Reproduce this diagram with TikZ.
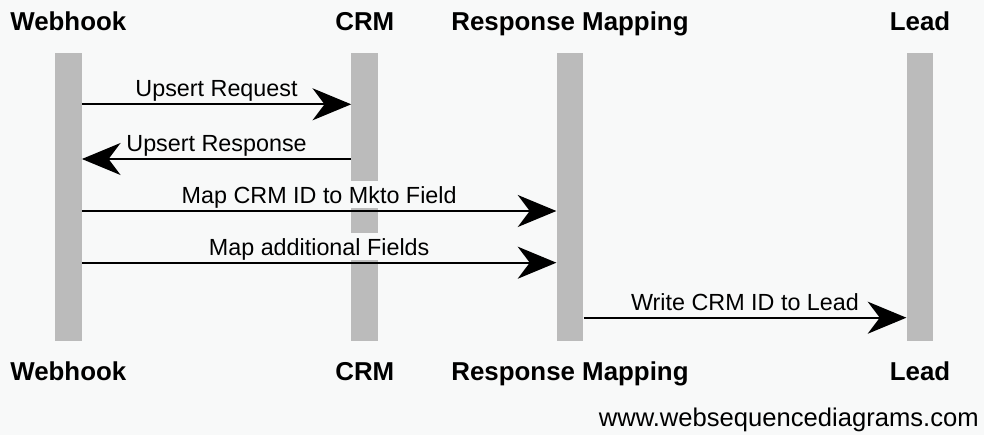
\documentclass[tikz,border=0pt]{standalone}
\usepackage{fontspec}
\setmainfont{Liberation Sans}
\usepackage{tikz}
\usetikzlibrary{arrows.meta,positioning}
\definecolor{canvas}{RGB}{248,249,249}
\definecolor{lifeline}{RGB}{187,187,187}
\tikzset{
    %Define standard arrow tip
    >={Stealth[length=29pt,width=24pt,inset=9pt]},
    %Define style for participant names
    actor/.style={
           inner sep=0pt,
           text height=13.9pt,
           text depth=0pt,
           font=\bfseries\fontsize{19.4}{23}\selectfont},
    %Define style for lifelines
    life/.style={
           rectangle,
           fill=lifeline,
           inner sep=0pt,
           minimum width=20pt,
           minimum height=216pt},
    % Define message style
    msg/.style={
           ->,
           line width=1.6pt},
    msglabel/.style={
           fill=canvas,
           font=\fontsize{17.5}{21}\selectfont,
           text height=16.5pt,
           text depth=3.75pt,
           inner ysep=0pt,
           inner xsep=1.5pt,
           above=1.2pt}
}
\begin{document}
\begin{tikzpicture}[x=0.75pt,y=-0.75pt]
\fill[canvas] (0,0) rectangle (984,435);
 %lifelines
\node[life] (wh) at (68.3,197) {};
\node[life] (crm) at (364.8,197) {};
\node[life] (rm) at (570,197) {};
\node[life] (lead) at (920,197) {};
 %names
\node[actor, above=16.5pt of wh] (whtop) {Webhook};
\node[actor, above=16.5pt of crm] (crmtop) {CRM};
\node[actor, above=16.5pt of rm] (rmtop) {Response Mapping};
\node[actor, above=16.5pt of lead] (leadtop) {Lead};
\node[actor, below=15pt of wh] (whbot) {Webhook};
\node[actor, below=15pt of crm] (crmbot) {CRM};
\node[actor, below=15pt of rm] (rmbot) {Response Mapping};
\node[actor, below=15pt of lead] (leadbot) {Lead};
 %messages
\coordinate (m1) at (0,104.3);
\coordinate (m2) at (0,159);
\coordinate (m3) at (0,211);
\coordinate (m4) at (0,262.7);
\coordinate (m5) at (0,317.7);
\path[msg]
    (wh.east |- m1) edge node[msglabel]{Upsert Request} (crm.west |- m1)
    (crm.west |- m2) edge node[msglabel]{Upsert Response} (wh.east |- m2)
    (wh.east |- m3) edge node[msglabel]{Map CRM ID to Mkto Field} (rm.west |- m3)
    (wh.east |- m4) edge node[msglabel]{Map additional Fields} (rm.west |- m4)
    (rm.east |- m5) edge node[msglabel]{Write CRM ID to Lead} (lead.west |- m5);
\node[anchor=base east, inner sep=0pt, font=\fontsize{19.2}{23}\selectfont] (credit) at (979,426.5) {www.websequencediagrams.com};
\end{tikzpicture}
\end{document}
